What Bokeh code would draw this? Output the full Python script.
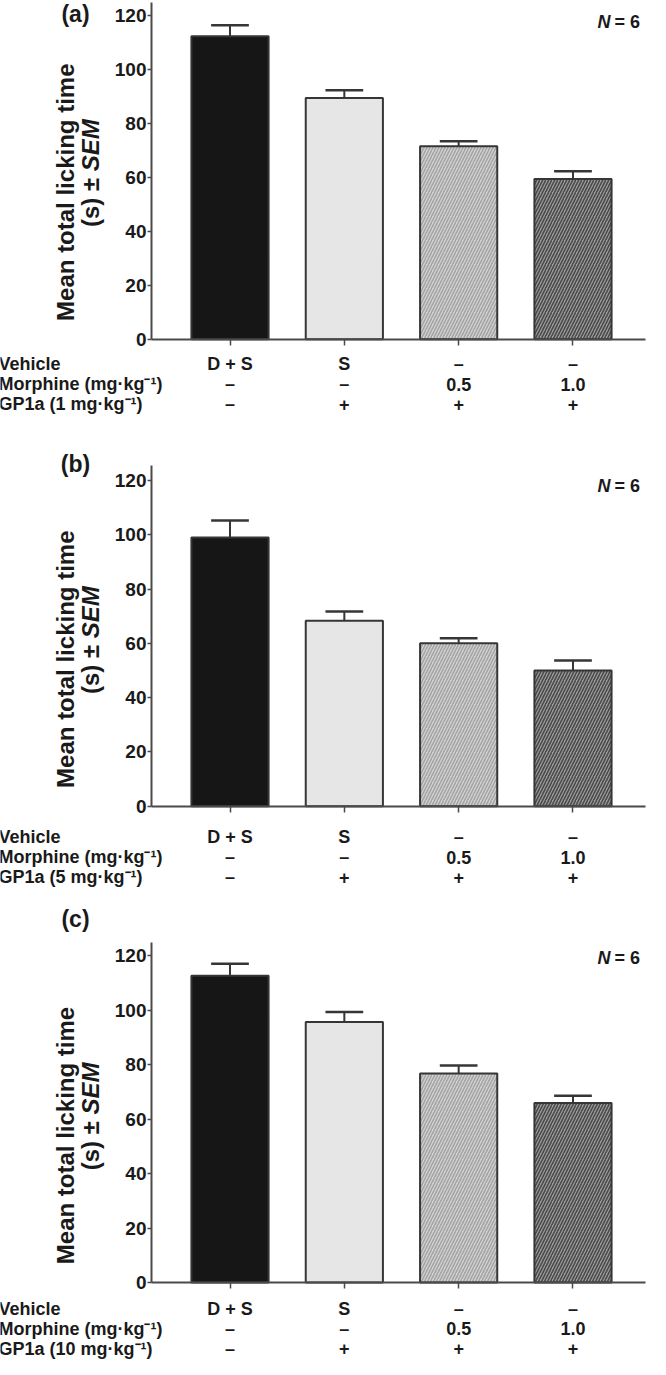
import numpy as np
from bokeh.plotting import figure
from bokeh.models import Range1d, Label, FixedTicker, ColumnDataSource
from bokeh.layouts import column
from bokeh.embed import file_html
from bokeh.resources import INLINE

# ---------------- data ----------------
positions = [0, 1, 2, 3]
vehicle = ["D + S", "S", "–", "–"]
morphine = ["–", "–", "0.5", "1.0"]
gp1a = ["–", "+", "+", "+"]
gp1a_doses = ["GP1a (1 mg·kg⁻¹)", "GP1a (5 mg·kg⁻¹)", "GP1a (10 mg·kg⁻¹)"]
row_titles = ["Vehicle", "Morphine (mg·kg⁻¹)"]
panel_tags = ["(a)", "(b)", "(c)"]

means_a = [112.2, 89.3, 71.5, 59.3]
sem_a = [4.1, 2.9, 1.8, 2.9]
means_b = [99.0, 68.3, 60.0, 50.0]
sem_b = [6.3, 3.4, 1.9, 3.7]
means_c = [112.6, 95.6, 76.7, 65.9]
sem_c = [4.4, 3.7, 2.9, 2.6]
y_ticks = [0, 20, 40, 60, 80, 100, 120]
n_text = "= 6"

fills = ["#161616", "#e6e6e6", "#d4d4d4", "#9c9c9c"]
hatches = [" ", " ", "/", "/"]
hatch_colors = ["#161616", "#e6e6e6", "#a4a4a4", "#4a4a4a"]

FONT = "Liberation Sans"
TXT = "#1a1a1a"
AX = "#4a4a4a"
W = 650
PAGE_X = 8          # reference x of canvas left edge
AXIS_X = 159        # reference x of the y axis
AXIS_END = 653      # reference x of the right end of the x axis
X0_PX = 237.5       # reference x of the first bar centre
DX = 114.33         # px per category


def panel(tag, means, sems, dose_label, fig_top, H, zero, k, axis_top,
          tag_y, n_y, row_off):
    # map canvas -> data
    x_start = (PAGE_X - X0_PX) / DX
    x_end = (PAGE_X + W - X0_PX) / DX
    y_end = (zero - fig_top) / k
    y_start = -(fig_top + H - zero) / k
    yax = (AXIS_X - X0_PX) / DX
    xend = (AXIS_END - X0_PX) / DX
    ytop = (zero - axis_top) / k

    p = figure(width=W, height=H, x_range=Range1d(x_start, x_end),
               y_range=Range1d(y_start, y_end), min_border=0,
               output_backend="svg", toolbar_location=None)
    p.outline_line_color = None
    p.xgrid.visible = False
    p.ygrid.visible = False
    p.background_fill_color = "white"
    p.border_fill_color = "white"

    src = ColumnDataSource(dict(x=positions, top=means, fill=fills,
                                hatch=hatches, hcol=hatch_colors))
    p.vbar(x="x", top="top", width=0.675, source=src, fill_color="fill",
           line_color="#363636", line_width=2, hatch_pattern="hatch",
           hatch_color="hcol", hatch_scale=6, hatch_weight=1.6)

    m = np.array(means)
    s = np.array(sems)
    xs = np.array(positions, dtype=float)
    p.segment(x0=xs, y0=m, x1=xs, y1=m + s, line_color="#363636", line_width=2)
    p.segment(x0=xs - 0.165, y0=m + s, x1=xs + 0.165, y1=m + s,
              line_color="#363636", line_width=2.5)

    # x axis (category axis whose labels are the Vehicle row)
    xa = p.xaxis[0]
    xa.fixed_location = 0
    xa.bounds = (yax, xend)
    xa.ticker = FixedTicker(ticks=positions)
    xa.major_label_overrides = {pos: v for pos, v in zip(positions, vehicle)}
    xa.major_label_text_font = FONT
    xa.major_label_text_font_style = "bold"
    xa.major_label_text_font_size = "18px"
    xa.major_label_text_color = TXT
    xa.major_label_standoff = row_off[0] - 16
    xa.major_tick_in = 0
    xa.major_tick_out = 6
    xa.minor_tick_line_color = None
    xa.axis_line_width = 2
    xa.axis_line_color = AX
    xa.major_tick_line_color = AX
    xa.major_tick_line_width = 1.5

    ya = p.yaxis[0]
    ya.fixed_location = yax
    ya.bounds = (0, ytop)
    ya.ticker = FixedTicker(ticks=y_ticks)
    ya.major_label_text_font = FONT
    ya.major_label_text_font_style = "bold"
    ya.major_label_text_font_size = "19px"
    ya.major_label_text_color = TXT
    ya.major_label_standoff = 1
    ya.major_tick_in = 0
    ya.major_tick_out = 4
    ya.minor_tick_line_color = None
    ya.axis_line_width = 2
    ya.axis_line_color = AX
    ya.major_tick_line_color = AX
    ya.major_tick_line_width = 1.5

    def lab(text, ref_x, ref_y, size, align="left", style="bold", angle=0.0):
        # ref_x, ref_y: position in the reference picture (px)
        p.add_layout(Label(x=yax, y=0.0, x_offset=ref_x - AXIS_X,
                           y_offset=zero - ref_y, text=text,
                           text_font=FONT, text_font_style=style,
                           text_font_size=size, text_color=TXT,
                           text_align=align, text_baseline="middle",
                           angle=angle))

    # table rows 2 and 3 plus row titles
    titles = row_titles + [dose_label]
    for r, title in enumerate(titles):
        lab(title, 6, zero + row_off[r], "18px")
    for r, vals in enumerate([morphine, gp1a]):
        for xi, v in zip(positions, vals):
            lab(v, X0_PX + xi * DX, zero + row_off[r + 1], "18px",
                align="center")

    # y-axis title (two lines, rotated)
    lab("Mean total licking time", 73, zero - 147, "24px", align="center",
        angle=np.pi / 2)
    lab("(s) ± ", 98, zero - 168, "24px", align="right", angle=np.pi / 2)
    lab("SEM", 98, zero - 168, "24px", align="left", style="bold italic",
        angle=np.pi / 2)

    # N = 6
    lab("N", 618, n_y, "18px", align="right", style="bold italic")
    lab(n_text, 622, n_y, "18px", align="left")

    # panel tag
    lab(tag, 83, tag_y, "23px", align="center")
    return p


pa = panel(panel_tags[0], means_a, sem_a, gp1a_doses[0], 8, 440, 346.7, 2.70,
           10, 21, 29, [25, 45, 65])
pb = panel(panel_tags[1], means_b, sem_b, gp1a_doses[1], 448, 455, 813.7,
           2.714, 473, 471, 493, [31, 51, 71])
pc = panel(panel_tags[2], means_c, sem_c, gp1a_doses[2], 903, 464, 1290,
           2.725, 950, 926, 965, [26, 46, 66])

layout = column(pa, pb, pc, spacing=0)
open("out.html", "w").write(file_html(layout, INLINE))
